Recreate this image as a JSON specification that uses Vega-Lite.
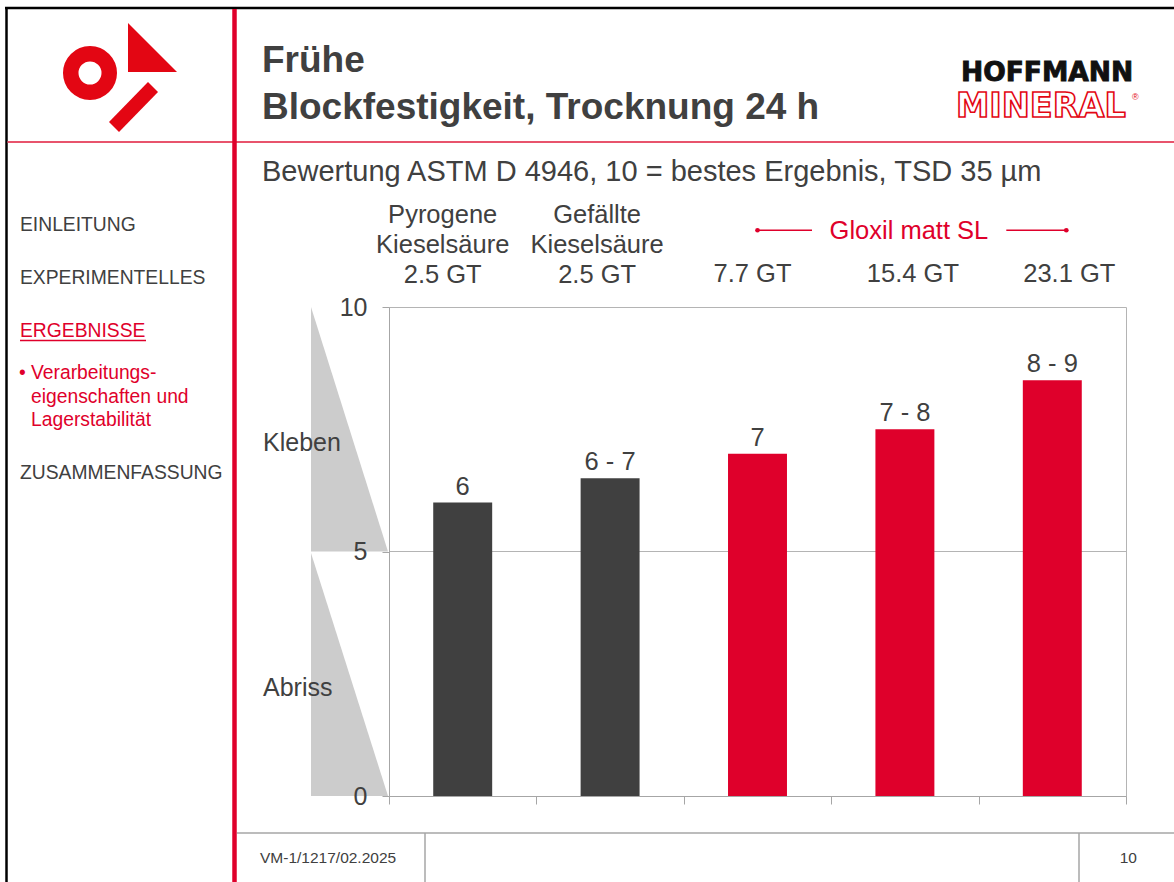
{
  "$schema": "https://vega.github.io/schema/vega-lite/v6.json",
  "width": 737,
  "height": 489,
  "autosize": {"type": "none"},
  "padding": {"left": 389, "top": 307, "right": 48, "bottom": 86},
  "background": "#ffffff",
  "config": {
    "font": "Liberation Sans",
    "view": {"stroke": "#b4b4b4", "strokeWidth": 1},
    "axis": {"labelFont": "Liberation Sans"}
  },
  "title": {
    "text": ["Frühe", "Blockfestigkeit, Trocknung 24 h"],
    "subtitle": "Bewertung ASTM D 4946, 10 = bestes Ergebnis, TSD 35 µm",
    "anchor": "start",
    "frame": "group",
    "orient": "top",
    "offset": -182,
    "dx": -127,
    "font": "Liberation Sans",
    "fontSize": 37,
    "fontWeight": "bold",
    "color": "#404040",
    "lineHeight": 47,
    "subtitleFont": "Liberation Sans",
    "subtitleFontSize": 29,
    "subtitleColor": "#404040",
    "subtitlePadding": 31
  },
  "datasets": {
    "proben": [
      {"probe": "Pyrogene Kieselsäure 2.5 GT", "gruppe": "Kieselsäure", "wert": 6, "bewertung": "6"},
      {"probe": "Gefällte Kieselsäure 2.5 GT", "gruppe": "Kieselsäure", "wert": 6.5, "bewertung": "6 - 7"},
      {"probe": "Gloxil matt SL 7.7 GT", "gruppe": "Gloxil matt SL", "wert": 7, "bewertung": "7"},
      {"probe": "Gloxil matt SL 15.4 GT", "gruppe": "Gloxil matt SL", "wert": 7.5, "bewertung": "7 - 8"},
      {"probe": "Gloxil matt SL 23.1 GT", "gruppe": "Gloxil matt SL", "wert": 8.5, "bewertung": "8 - 9"}
    ],
    "klammer": [
      {"gruppe": "Gloxil matt SL", "erste": "Gloxil matt SL 7.7 GT", "mitte": "Gloxil matt SL 15.4 GT", "letzte": "Gloxil matt SL 23.1 GT"}
    ],
    "raster": [{"stufe": 5}],
    "keile": [
      {"bereich": "Kleben", "k": 0, "oben": 10, "unten": 5},
      {"bereich": "Kleben", "k": 1, "oben": 5, "unten": 5},
      {"bereich": "Abriss", "k": 0, "oben": 4.97, "unten": 0},
      {"bereich": "Abriss", "k": 1, "oben": 0, "unten": 0}
    ],
    "bereiche": [
      {"bereich": "Kleben", "mitte": 7.5},
      {"bereich": "Abriss", "mitte": 2.5}
    ],
    "folie": [
      {"dokument": "VM-1/1217/02.2025", "seite": "10"}
    ]
  },
  "layer": [
    {
      "layer": [
        {
          "layer": [
            {
              "data": {"name": "raster"},
              "mark": {"type": "rule", "color": "#b4b4b4", "strokeWidth": 1},
              "encoding": {
                "y": {
                  "field": "stufe", "type": "quantitative", "scale": {"domain": [0, 10]},
                  "axis": {"orient": "left", "values": [0, 5, 10], "title": null, "grid": false, "domain": true, "domainColor": "#a6a6a6", "tickColor": "#a6a6a6", "tickSize": 7, "labelFontSize": 25, "labelColor": "#404040", "labelPadding": 15, "zindex": 1}
                }
              }
            },
            {
              "data": {"name": "proben"},
              "mark": {"type": "bar", "width": {"band": 0.4}},
              "encoding": {
                "x": {
                  "field": "probe", "type": "nominal", "sort": null,
                  "scale": {"domain": ["Pyrogene Kieselsäure 2.5 GT", "Gefällte Kieselsäure 2.5 GT", "Gloxil matt SL 7.7 GT", "Gloxil matt SL 15.4 GT", "Gloxil matt SL 23.1 GT"], "paddingInner": 0, "paddingOuter": 0},
                  "axis": {"orient": "bottom", "title": null, "labels": false, "tickBand": "extent", "tickSize": 8, "tickColor": "#a6a6a6", "domainColor": "#a6a6a6", "zindex": 1}
                },
                "y": {"field": "wert", "type": "quantitative", "scale": {"domain": [0, 10]}, "axis": null},
                "color": {
                  "field": "gruppe", "type": "nominal",
                  "scale": {"domain": ["Kieselsäure", "Gloxil matt SL"], "range": ["#404040", "#df002b"]},
                  "legend": null
                }
              }
            },
            {
              "data": {"name": "proben"},
              "mark": {"type": "text", "baseline": "alphabetic", "dy": -8, "fontSize": 25.5, "color": "#404040"},
              "encoding": {
                "x": {
                  "field": "probe", "type": "nominal", "sort": null,
                  "scale": {"domain": ["Pyrogene Kieselsäure 2.5 GT", "Gefällte Kieselsäure 2.5 GT", "Gloxil matt SL 7.7 GT", "Gloxil matt SL 15.4 GT", "Gloxil matt SL 23.1 GT"], "paddingInner": 0, "paddingOuter": 0},
                  "axis": {
                    "orient": "top", "values": ["Pyrogene Kieselsäure 2.5 GT"], "title": null, "domain": false, "ticks": false, "grid": false, "labelAngle": 0,
                    "labelFontSize": 25.5, "labelColor": "#404040", "labelLineHeight": 30, "labelPadding": 80, "labelOffset": -20,
                    "labelOverlap": false, "labelLimit": 260,
                    "labelExpr": "split(replace(datum.value, ' Kieselsäure ', '|Kieselsäure|'), '|')"
                  }
                },
                "y": {"field": "wert", "type": "quantitative", "scale": {"domain": [0, 10]}, "axis": null},
                "text": {"field": "bewertung"}
              }
            },
            {
              "data": {"name": "klammer"},
              "mark": {"type": "text", "baseline": "middle", "dx": 4, "dy": 1, "fontSize": 25.5, "color": "#df002b"},
              "encoding": {
                "x": {
                  "field": "mitte", "type": "nominal", "sort": null,
                  "scale": {"domain": ["Pyrogene Kieselsäure 2.5 GT", "Gefällte Kieselsäure 2.5 GT", "Gloxil matt SL 7.7 GT", "Gloxil matt SL 15.4 GT", "Gloxil matt SL 23.1 GT"], "paddingInner": 0, "paddingOuter": 0},
                  "axis": {
                    "orient": "top", "values": ["Gloxil matt SL 15.4 GT"], "title": null, "domain": false, "ticks": false, "grid": false, "labelAngle": 0,
                    "labelFontSize": 25.5, "labelColor": "#404040", "labelPadding": 21, "labelOffset": 8,
                    "labelOverlap": false, "labelLimit": 260,
                    "labelExpr": "replace(datum.value, 'Gloxil matt SL ', '')"
                  }
                },
                "y": {"datum": 11.57, "type": "quantitative", "scale": {"domain": [0, 10]}, "axis": null},
                "text": {"field": "gruppe"}
              }
            },
            {
              "data": {"name": "klammer"},
              "mark": {"type": "tick", "size": 55, "thickness": 1.3, "xOffset": 27, "color": "#df002b", "opacity": 1},
              "encoding": {
                "x": {
                  "field": "erste", "type": "nominal", "sort": null,
                  "scale": {"domain": ["Pyrogene Kieselsäure 2.5 GT", "Gefällte Kieselsäure 2.5 GT", "Gloxil matt SL 7.7 GT", "Gloxil matt SL 15.4 GT", "Gloxil matt SL 23.1 GT"], "paddingInner": 0, "paddingOuter": 0},
                  "axis": {
                    "orient": "top", "values": ["Gloxil matt SL 7.7 GT"], "title": null, "domain": false, "ticks": false, "grid": false, "labelAngle": 0,
                    "labelFontSize": 25.5, "labelColor": "#404040", "labelPadding": 21, "labelOffset": -5,
                    "labelOverlap": false, "labelLimit": 260,
                    "labelExpr": "replace(datum.value, 'Gloxil matt SL ', '')"
                  }
                },
                "y": {"datum": 11.57, "type": "quantitative", "scale": {"domain": [0, 10]}, "axis": null}
              }
            },
            {
              "data": {"name": "klammer"},
              "mark": {"type": "tick", "size": 60, "thickness": 1.3, "xOffset": -16, "color": "#df002b", "opacity": 1},
              "encoding": {
                "x": {
                  "field": "letzte", "type": "nominal", "sort": null,
                  "scale": {"domain": ["Pyrogene Kieselsäure 2.5 GT", "Gefällte Kieselsäure 2.5 GT", "Gloxil matt SL 7.7 GT", "Gloxil matt SL 15.4 GT", "Gloxil matt SL 23.1 GT"], "paddingInner": 0, "paddingOuter": 0},
                  "axis": {
                    "orient": "top", "values": ["Gloxil matt SL 23.1 GT"], "title": null, "domain": false, "ticks": false, "grid": false, "labelAngle": 0,
                    "labelFontSize": 25.5, "labelColor": "#404040", "labelPadding": 21, "labelOffset": 17,
                    "labelOverlap": false, "labelLimit": 260,
                    "labelExpr": "replace(datum.value, 'Gloxil matt SL ', '')"
                  }
                },
                "y": {"datum": 11.57, "type": "quantitative", "scale": {"domain": [0, 10]}, "axis": null}
              }
            },
            {
              "data": {"name": "klammer"},
              "mark": {"type": "point", "filled": true, "size": 22, "color": "#df002b", "opacity": 1},
              "encoding": {
                "x": {
                  "field": "erste", "type": "nominal", "sort": null,
                  "scale": {"domain": ["Pyrogene Kieselsäure 2.5 GT", "Gefällte Kieselsäure 2.5 GT", "Gloxil matt SL 7.7 GT", "Gloxil matt SL 15.4 GT", "Gloxil matt SL 23.1 GT"], "paddingInner": 0, "paddingOuter": 0},
                  "axis": {
                    "orient": "top", "values": ["Gefällte Kieselsäure 2.5 GT"], "title": null, "domain": false, "ticks": false, "grid": false, "labelAngle": 0,
                    "labelFontSize": 25.5, "labelColor": "#404040", "labelLineHeight": 30, "labelPadding": 80, "labelOffset": -13,
                    "labelOverlap": false, "labelLimit": 260,
                    "labelExpr": "split(replace(datum.value, ' Kieselsäure ', '|Kieselsäure|'), '|')"
                  }
                },
                "y": {"datum": 11.57, "type": "quantitative", "scale": {"domain": [0, 10]}, "axis": null}
              }
            },
            {
              "data": {"name": "klammer"},
              "mark": {"type": "point", "filled": true, "size": 22, "xOffset": 14, "color": "#df002b", "opacity": 1},
              "encoding": {
                "x": {"field": "letzte", "type": "nominal", "sort": null, "scale": {"domain": ["Pyrogene Kieselsäure 2.5 GT", "Gefällte Kieselsäure 2.5 GT", "Gloxil matt SL 7.7 GT", "Gloxil matt SL 15.4 GT", "Gloxil matt SL 23.1 GT"], "paddingInner": 0, "paddingOuter": 0}, "axis": null},
                "y": {"datum": 11.57, "type": "quantitative", "scale": {"domain": [0, 10]}, "axis": null}
              }
            }
          ],
          "resolve": {"axis": {"x": "independent", "y": "independent"}}
        },
        {
          "layer": [
            {
              "data": {"name": "keile"},
              "mark": {"type": "area", "color": "#cccccc", "opacity": 1},
              "encoding": {
                "x": {"field": "k", "type": "quantitative", "scale": {"domain": [0, 1], "range": [-78, -1], "nice": false, "zero": false}, "axis": null},
                "y": {"field": "oben", "type": "quantitative", "scale": {"domain": [0, 10]}, "axis": null},
                "y2": {"field": "unten"},
                "detail": {"field": "bereich", "type": "nominal"}
              }
            },
            {
              "data": {"name": "bereiche"},
              "mark": {"type": "text", "align": "left", "baseline": "alphabetic", "dx": -48, "dy": 22, "fontSize": 25, "color": "#404040"},
              "encoding": {
                "x": {"datum": 0, "type": "quantitative", "scale": {"domain": [0, 1], "range": [-78, -1], "nice": false, "zero": false}, "axis": null},
                "y": {"field": "mitte", "type": "quantitative", "scale": {"domain": [0, 10]}, "axis": null},
                "text": {"field": "bereich"}
              }
            }
          ]
        }
      ],
      "resolve": {"scale": {"x": "independent"}, "axis": {"y": "independent"}}
    },
    {
      "data": {"name": "folie"},
      "layer": [
        {"mark": {"type": "rule", "color": "#000000", "strokeWidth": 2.5},
         "encoding": {"x": {"datum": 5, "type": "quantitative", "scale": {"domain": [0, 1174], "range": [-389, 785], "nice": false, "zero": false}, "axis": null}, "x2": {"datum": 1174},
                      "y": {"datum": 8, "type": "quantitative", "scale": {"domain": [0, 882], "range": [-307, 575], "nice": false, "zero": false}, "axis": null}}},
        {"mark": {"type": "rule", "color": "#000000", "strokeWidth": 2.5},
         "encoding": {"x": {"datum": 6.5, "type": "quantitative", "scale": {"domain": [0, 1174], "range": [-389, 785], "nice": false, "zero": false}, "axis": null},
                      "y": {"datum": 7, "type": "quantitative", "scale": {"domain": [0, 882], "range": [-307, 575], "nice": false, "zero": false}, "axis": null}, "y2": {"datum": 882}}},
        {"mark": {"type": "rule", "color": "#e8536c", "strokeWidth": 1.8},
         "encoding": {"x": {"datum": 7.5, "type": "quantitative", "scale": {"domain": [0, 1174], "range": [-389, 785], "nice": false, "zero": false}, "axis": null}, "x2": {"datum": 1174},
                      "y": {"datum": 142, "type": "quantitative", "scale": {"domain": [0, 882], "range": [-307, 575], "nice": false, "zero": false}, "axis": null}}},
        {"mark": {"type": "rule", "color": "#df002b", "strokeWidth": 4.5},
         "encoding": {"x": {"datum": 234.5, "type": "quantitative", "scale": {"domain": [0, 1174], "range": [-389, 785], "nice": false, "zero": false}, "axis": null},
                      "y": {"datum": 9, "type": "quantitative", "scale": {"domain": [0, 882], "range": [-307, 575], "nice": false, "zero": false}, "axis": null}, "y2": {"datum": 882}}},
        {"mark": {"type": "rule", "color": "#a6a6a6", "strokeWidth": 1.5},
         "encoding": {"x": {"datum": 237, "type": "quantitative", "scale": {"domain": [0, 1174], "range": [-389, 785], "nice": false, "zero": false}, "axis": null}, "x2": {"datum": 1174},
                      "y": {"datum": 833, "type": "quantitative", "scale": {"domain": [0, 882], "range": [-307, 575], "nice": false, "zero": false}, "axis": null}}},
        {"mark": {"type": "rule", "color": "#a6a6a6", "strokeWidth": 1.5},
         "encoding": {"x": {"datum": 425, "type": "quantitative", "scale": {"domain": [0, 1174], "range": [-389, 785], "nice": false, "zero": false}, "axis": null},
                      "y": {"datum": 833, "type": "quantitative", "scale": {"domain": [0, 882], "range": [-307, 575], "nice": false, "zero": false}, "axis": null}, "y2": {"datum": 882}}},
        {"mark": {"type": "rule", "color": "#a6a6a6", "strokeWidth": 1.5},
         "encoding": {"x": {"datum": 1079, "type": "quantitative", "scale": {"domain": [0, 1174], "range": [-389, 785], "nice": false, "zero": false}, "axis": null},
                      "y": {"datum": 833, "type": "quantitative", "scale": {"domain": [0, 882], "range": [-307, 575], "nice": false, "zero": false}, "axis": null}, "y2": {"datum": 882}}},
        {"mark": {"type": "point", "filled": false, "stroke": "#e30613", "strokeWidth": 15.5, "size": 1482, "opacity": 1},
         "encoding": {"x": {"datum": 90, "type": "quantitative", "scale": {"domain": [0, 1174], "range": [-389, 785], "nice": false, "zero": false}, "axis": null},
                      "y": {"datum": 73, "type": "quantitative", "scale": {"domain": [0, 882], "range": [-307, 575], "nice": false, "zero": false}, "axis": null}}},
        {"mark": {"type": "point", "shape": "M-1,-1L1,1L-1,1Z", "filled": true, "color": "#e30613", "size": 2401, "opacity": 1, "strokeWidth": 0},
         "encoding": {"x": {"datum": 152.5, "type": "quantitative", "scale": {"domain": [0, 1174], "range": [-389, 785], "nice": false, "zero": false}, "axis": null},
                      "y": {"datum": 47.5, "type": "quantitative", "scale": {"domain": [0, 882], "range": [-307, 575], "nice": false, "zero": false}, "axis": null}}},
        {"mark": {"type": "rule", "color": "#e30613", "strokeWidth": 14, "strokeCap": "butt"},
         "encoding": {"x": {"datum": 114, "type": "quantitative", "scale": {"domain": [0, 1174], "range": [-389, 785], "nice": false, "zero": false}, "axis": null}, "x2": {"datum": 153},
                      "y": {"datum": 127, "type": "quantitative", "scale": {"domain": [0, 882], "range": [-307, 575], "nice": false, "zero": false}, "axis": null}, "y2": {"datum": 87}}},
        {"mark": {"type": "text", "text": "HOFFMANN", "font": "DejaVu Sans", "fontWeight": "bold", "fontSize": 26.5, "align": "left", "baseline": "alphabetic", "fill": "#111111", "stroke": "#111111", "strokeWidth": 0.9},
         "encoding": {"x": {"datum": 961, "type": "quantitative", "scale": {"domain": [0, 1174], "range": [-389, 785], "nice": false, "zero": false}, "axis": null},
                      "y": {"datum": 81, "type": "quantitative", "scale": {"domain": [0, 882], "range": [-307, 575], "nice": false, "zero": false}, "axis": null}}},
        {"mark": {"type": "text", "text": "MINERAL", "font": "DejaVu Sans", "fontWeight": "bold", "fontSize": 33.5, "align": "left", "baseline": "alphabetic", "fill": "#ffffff", "stroke": "#e30613", "strokeWidth": 1.6},
         "encoding": {"x": {"datum": 956, "type": "quantitative", "scale": {"domain": [0, 1174], "range": [-389, 785], "nice": false, "zero": false}, "axis": null},
                      "y": {"datum": 116.5, "type": "quantitative", "scale": {"domain": [0, 882], "range": [-307, 575], "nice": false, "zero": false}, "axis": null}}},
        {"mark": {"type": "text", "text": "®", "fontSize": 9, "align": "left", "baseline": "alphabetic", "color": "#e30613"},
         "encoding": {"x": {"datum": 1132, "type": "quantitative", "scale": {"domain": [0, 1174], "range": [-389, 785], "nice": false, "zero": false}, "axis": null},
                      "y": {"datum": 100, "type": "quantitative", "scale": {"domain": [0, 882], "range": [-307, 575], "nice": false, "zero": false}, "axis": null}}},
        {"mark": {"type": "text", "text": "EINLEITUNG", "fontSize": 19.3, "align": "left", "baseline": "alphabetic", "color": "#404040"},
         "encoding": {"x": {"datum": 20, "type": "quantitative", "scale": {"domain": [0, 1174], "range": [-389, 785], "nice": false, "zero": false}, "axis": null},
                      "y": {"datum": 231, "type": "quantitative", "scale": {"domain": [0, 882], "range": [-307, 575], "nice": false, "zero": false}, "axis": null}}},
        {"mark": {"type": "text", "text": "EXPERIMENTELLES", "fontSize": 19.3, "align": "left", "baseline": "alphabetic", "color": "#404040"},
         "encoding": {"x": {"datum": 20, "type": "quantitative", "scale": {"domain": [0, 1174], "range": [-389, 785], "nice": false, "zero": false}, "axis": null},
                      "y": {"datum": 284, "type": "quantitative", "scale": {"domain": [0, 882], "range": [-307, 575], "nice": false, "zero": false}, "axis": null}}},
        {"mark": {"type": "text", "text": "ERGEBNISSE", "fontSize": 19.3, "align": "left", "baseline": "alphabetic", "color": "#df002b"},
         "encoding": {"x": {"datum": 20, "type": "quantitative", "scale": {"domain": [0, 1174], "range": [-389, 785], "nice": false, "zero": false}, "axis": null},
                      "y": {"datum": 337, "type": "quantitative", "scale": {"domain": [0, 882], "range": [-307, 575], "nice": false, "zero": false}, "axis": null}}},
        {"mark": {"type": "rule", "color": "#df002b", "strokeWidth": 1.3},
         "encoding": {"x": {"datum": 20, "type": "quantitative", "scale": {"domain": [0, 1174], "range": [-389, 785], "nice": false, "zero": false}, "axis": null}, "x2": {"datum": 146},
                      "y": {"datum": 340.5, "type": "quantitative", "scale": {"domain": [0, 882], "range": [-307, 575], "nice": false, "zero": false}, "axis": null}}},
        {"mark": {"type": "text", "text": "•", "fontSize": 19.3, "align": "left", "baseline": "alphabetic", "color": "#df002b"},
         "encoding": {"x": {"datum": 19, "type": "quantitative", "scale": {"domain": [0, 1174], "range": [-389, 785], "nice": false, "zero": false}, "axis": null},
                      "y": {"datum": 379, "type": "quantitative", "scale": {"domain": [0, 882], "range": [-307, 575], "nice": false, "zero": false}, "axis": null}}},
        {"mark": {"type": "text", "text": "Verarbeitungs-", "fontSize": 19.3, "align": "left", "baseline": "alphabetic", "color": "#df002b"},
         "encoding": {"x": {"datum": 31, "type": "quantitative", "scale": {"domain": [0, 1174], "range": [-389, 785], "nice": false, "zero": false}, "axis": null},
                      "y": {"datum": 379, "type": "quantitative", "scale": {"domain": [0, 882], "range": [-307, 575], "nice": false, "zero": false}, "axis": null}}},
        {"mark": {"type": "text", "text": "eigenschaften  und", "fontSize": 19.3, "align": "left", "baseline": "alphabetic", "color": "#df002b"},
         "encoding": {"x": {"datum": 31, "type": "quantitative", "scale": {"domain": [0, 1174], "range": [-389, 785], "nice": false, "zero": false}, "axis": null},
                      "y": {"datum": 402.5, "type": "quantitative", "scale": {"domain": [0, 882], "range": [-307, 575], "nice": false, "zero": false}, "axis": null}}},
        {"mark": {"type": "text", "text": "Lagerstabilität", "fontSize": 19.3, "align": "left", "baseline": "alphabetic", "color": "#df002b"},
         "encoding": {"x": {"datum": 31, "type": "quantitative", "scale": {"domain": [0, 1174], "range": [-389, 785], "nice": false, "zero": false}, "axis": null},
                      "y": {"datum": 426, "type": "quantitative", "scale": {"domain": [0, 882], "range": [-307, 575], "nice": false, "zero": false}, "axis": null}}},
        {"mark": {"type": "text", "text": "ZUSAMMENFASSUNG", "fontSize": 19.3, "align": "left", "baseline": "alphabetic", "color": "#404040"},
         "encoding": {"x": {"datum": 20, "type": "quantitative", "scale": {"domain": [0, 1174], "range": [-389, 785], "nice": false, "zero": false}, "axis": null},
                      "y": {"datum": 478.5, "type": "quantitative", "scale": {"domain": [0, 882], "range": [-307, 575], "nice": false, "zero": false}, "axis": null}}},
        {"mark": {"type": "text", "fontSize": 15.5, "align": "left", "baseline": "alphabetic", "color": "#404040"},
         "encoding": {"x": {"datum": 260, "type": "quantitative", "scale": {"domain": [0, 1174], "range": [-389, 785], "nice": false, "zero": false}, "axis": null},
                      "y": {"datum": 863, "type": "quantitative", "scale": {"domain": [0, 882], "range": [-307, 575], "nice": false, "zero": false}, "axis": null},
                      "text": {"field": "dokument"}}},
        {"mark": {"type": "text", "fontSize": 15.5, "align": "right", "baseline": "alphabetic", "color": "#404040"},
         "encoding": {"x": {"datum": 1137, "type": "quantitative", "scale": {"domain": [0, 1174], "range": [-389, 785], "nice": false, "zero": false}, "axis": null},
                      "y": {"datum": 863, "type": "quantitative", "scale": {"domain": [0, 882], "range": [-307, 575], "nice": false, "zero": false}, "axis": null},
                      "text": {"field": "seite"}}}
      ]
    }
  ],
  "resolve": {"scale": {"x": "independent", "y": "independent"}}
}
